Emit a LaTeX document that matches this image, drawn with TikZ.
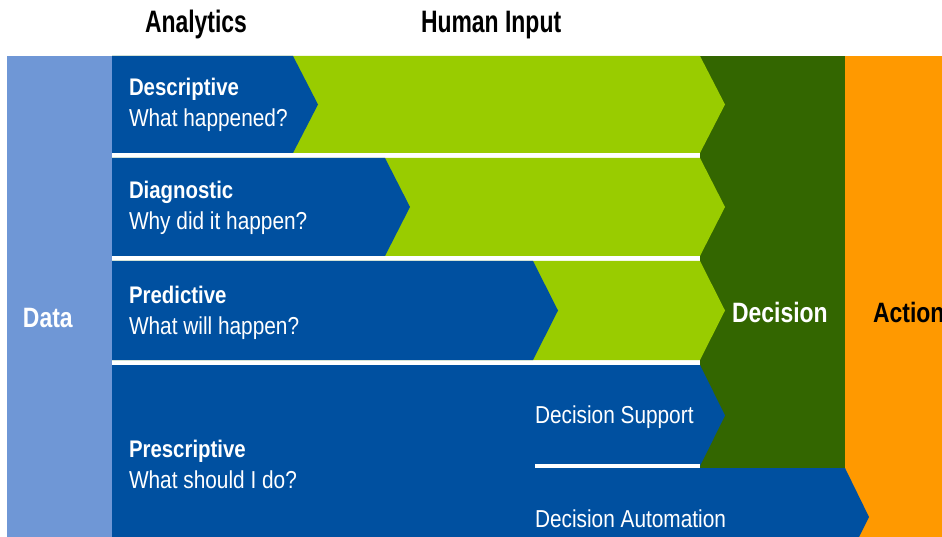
\documentclass[tikz,border=0pt]{standalone}
\usepackage{fontspec}
\setmainfont{Liberation Sans}
\newfontfamily\rowfont[FakeStretch=0.85]{Liberation Sans}
\newfontfamily\headfont[FakeStretch=0.74]{Liberation Sans}
\newfontfamily\bigfont[FakeStretch=0.82]{Liberation Sans}
\definecolor{datablue}{RGB}{111,151,214}
\definecolor{darkblue}{RGB}{0,80,160}
\definecolor{lightgreen}{RGB}{153,204,0}
\definecolor{darkgreen}{RGB}{51,102,0}
\definecolor{orangec}{RGB}{255,153,0}
\begin{document}
\begin{tikzpicture}[x=1pt,y=-1pt,
  lbl/.style={anchor=base west, inner sep=0pt, outer sep=0pt},
  rowtitle/.style={lbl, text=white, font=\rowfont\bfseries\fontsize{24}{28}\selectfont},
  rowsub/.style={lbl, text=white, font=\rowfont\fontsize{24.5}{28}\selectfont},
  header/.style={lbl, text=black, font=\headfont\bfseries\fontsize{31}{34}\selectfont},
  bigword/.style={lbl, font=\bigfont\bfseries\fontsize{28}{32}\selectfont}]
\clip (0,0) rectangle (942,537);
\fill[white] (0,0) rectangle (942,537);
% columns
\fill[datablue] (7,56) rectangle (112,537);
\fill[darkgreen] (700,56) rectangle (845,468);
\fill[orangec] (845,56) rectangle (942,537);
% rows 1-3
\foreach \t/\b/\xb in {56/153/293, 158/256/385, 261/360/533}{
  \fill[lightgreen] (112,\t) -- (700,\t) -- (725,{(\t+\b)/2}) -- (700,\b) -- (112,\b) -- cycle;
  \fill[darkblue] (112,\t) -- (\xb,\t) -- ({\xb+25},{(\t+\b)/2}) -- (\xb,\b) -- (112,\b) -- cycle;
}
% row 4
\fill[darkblue] (112,365) -- (700,365) -- (725,415.5) -- (700,466) -- (700,468)
  -- (845,468) -- (869,517) -- (859,537) -- (112,537) -- cycle;
\fill[white] (535,464) rectangle (700,468);
% headers
\node[header] (analytics) at (145,33) {Analytics};
\node[header] (human) at (421,33) {Human Input};
% row texts
\node[rowtitle] (desc) at (129,96) {Descriptive};
\node[rowsub] (descq) at (129,127) {What happened?};
\node[rowtitle] (diag) at (129,199) {Diagnostic};
\node[rowsub] (diagq) at (129,230) {Why did it happen?};
\node[rowtitle] (pred) at (129,303) {Predictive};
\node[rowsub] (predq) at (129,334) {What will happen?};
\node[rowtitle] (presc) at (129,457) {Prescriptive};
\node[rowsub] (prescq) at (129,488) {What should I do?};
\node[rowsub] (support) at (535,423) {Decision Support};
\node[rowsub] (automation) at (535,527) {Decision Automation};
% big words
\node[bigword, text=white] (data) at (23,327) {Data};
\node[bigword, text=white] (decision) at (732,322) {Decision};
\node[bigword, text=black] (action) at (873,322) {Action};
\end{tikzpicture}
\end{document}
